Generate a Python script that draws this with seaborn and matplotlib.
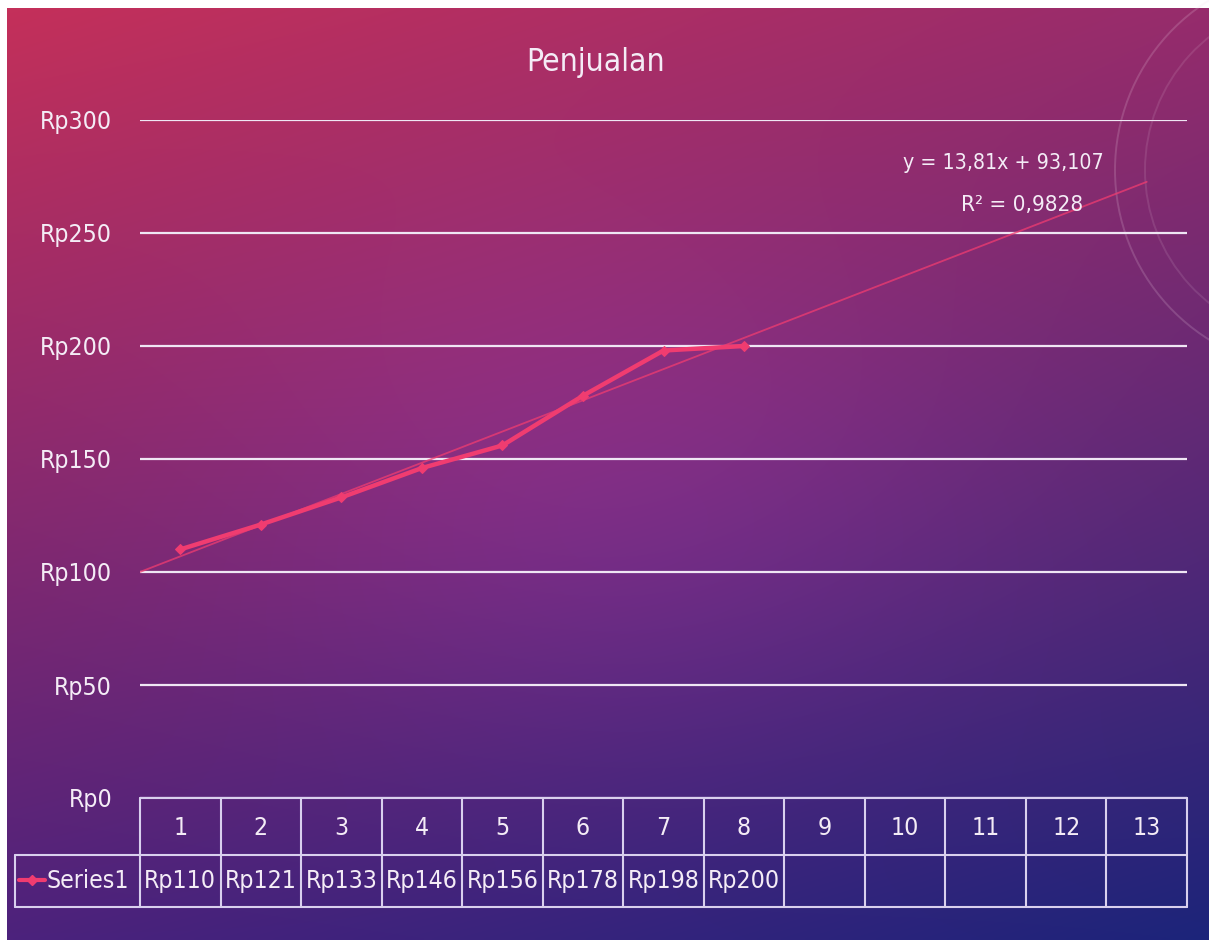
import numpy as np
import pandas as pd
import matplotlib
matplotlib.use("Agg")
import matplotlib.pyplot as plt
import matplotlib.transforms as mtransforms
from matplotlib import font_manager
from matplotlib.lines import Line2D
from matplotlib.patches import Arc
import seaborn as sns

# ---- data -------------------------------------------------------------
title = "Penjualan"
series_name = "Series1"
periods = list(range(1, 14))                      # table columns 1..13
sales_periods = [1, 2, 3, 4, 5, 6, 7, 8]
sales = [110, 121, 133, 146, 156, 178, 198, 200]
y_ticks = [0, 50, 100, 150, 200, 250, 300]
y_tick_labels = [f"Rp{v}" for v in y_ticks]

# ---- style ------------------------------------------------------------
sns.set_style("white")
names = {f.name for f in font_manager.fontManager.ttflist}
condensed = [f for f in font_manager.fontManager.ttflist
             if f.name == "DejaVu Sans" and "ondensed" in f.fname]
if "Liberation Sans Narrow" in names:
    plt.rcParams["font.family"] = ["Liberation Sans Narrow", "DejaVu Sans"]
    SCALE = 1.0
elif condensed:
    plt.rcParams["font.family"] = ["DejaVu Sans"]
    plt.rcParams["font.stretch"] = "condensed"
    SCALE = 0.85
else:
    plt.rcParams["font.family"] = ["Lato", "DejaVu Sans"]
    SCALE = 0.92

W, H = 1209, 940
TXT = "#F4ECF6"
GRID = "#EFE6F4"
TABLE = "#D9D0EE"
PINK = "#F03C70"
FS = 21 * SCALE

fig = plt.figure(figsize=(W / 100, H / 100), dpi=100, facecolor="white")

# ---- gradient backdrop ------------------------------------------------
bg = fig.add_axes([7 / W, 0, 1 - 7 / W, 1 - 8 / H], zorder=-10)
ny, nx = 240, 300
xx, yy = np.meshgrid(np.linspace(0, 1, nx), np.linspace(0, 1, ny))
tl = np.array([196, 48, 90])
tr = np.array([150, 44, 108])
bl = np.array([76, 34, 124])
br = np.array([28, 36, 122])
img = (((1 - xx) * (1 - yy))[..., None] * tl + (xx * (1 - yy))[..., None] * tr
       + ((1 - xx) * yy)[..., None] * bl + (xx * yy)[..., None] * br)
glow = np.exp(-(((xx - 0.5) / 0.35) ** 2 + ((yy - 0.5) / 0.3) ** 2))
img = img + glow[..., None] * np.array([18, 6, 22])
bg.imshow(np.clip(img, 0, 255) / 255, aspect="auto", interpolation="bilinear")
bg.set_axis_off()

# faint decorative arcs, top right
deco = fig.add_axes([0, 0, 1, 1], zorder=-5)
deco.set_xlim(0, W)
deco.set_ylim(H, 0)
deco.set_axis_off()
deco.patch.set_alpha(0)
for r, a in [(200, 0.18), (170, 0.12)]:
    deco.add_patch(Arc((1315, 170), 2 * r, 2 * r, theta1=95, theta2=265,
                       color="#F2D8EA", lw=1.4, alpha=a))

# ---- main chart -------------------------------------------------------
ax = fig.add_axes([140 / W, 1 - 798 / H, 1047 / W, 678 / H])
ax.patch.set_alpha(0)

df = pd.DataFrame({"period": sales_periods, "sales": sales})

# linear trendline from the series
slope, intercept = np.polyfit(df["period"], df["sales"], 1)
pred = slope * df["period"] + intercept
r2 = 1 - ((df["sales"] - pred) ** 2).sum() / ((df["sales"] - df["sales"].mean()) ** 2).sum()
trend = pd.DataFrame({"period": [0.5, 13.0]})
trend["sales"] = slope * trend["period"] + intercept
sns.lineplot(data=trend, x="period", y="sales", ax=ax, color=PINK, lw=1.3,
             alpha=0.75, zorder=3)

sns.lineplot(data=df, x="period", y="sales", ax=ax, color=PINK, lw=3.2,
             marker="D", markersize=5, markeredgecolor=PINK, zorder=4)

ax.set_xlim(0.5, 13.5)
ax.set_ylim(0, 300)
ax.set_yticks(y_ticks)
ax.set_yticklabels(y_tick_labels, fontsize=FS, color=TXT)
ax.set_xticks([])
ax.tick_params(axis="y", length=0, pad=20)
ax.yaxis.grid(True, color=GRID, lw=1.6)
ax.set_axisbelow(True)
for s in ax.spines.values():
    s.set_visible(False)
ax.set_xlabel("")
ax.set_ylabel("")

eq = f"y = {slope:.2f}x + {intercept:.3f}".replace(".", ",")
r2_txt = f"R² = {r2:.4f}".replace(".", ",")
fig.text(1003 / W, 1 - 163 / H, eq, fontsize=18 * SCALE, color=TXT, ha="center", va="center")
fig.text(1022 / W, 1 - 205 / H, r2_txt, fontsize=19 * SCALE, color=TXT, ha="center", va="center")

fig.text(596 / W, 1 - 62 / H, title, fontsize=26.8 * SCALE, color=TXT, ha="center", va="center")

# ---- data table under the axis ---------------------------------------
T = mtransforms.blended_transform_factory(ax.transData, fig.transFigure)
inv = fig.transFigure.inverted()


def fx(v):
    return inv.transform(ax.transData.transform((v, 0)))[0]


y_top, y_mid, y_bot = 1 - 798 / H, 1 - 855 / H, 1 - 907 / H
x_leg = 15 / W
x_first, x_last = fx(0.5), fx(13.5)
lkw = dict(color=TABLE, lw=1.5, transform=fig.transFigure)
fig.add_artist(Line2D([x_first, x_last], [y_top, y_top], **lkw))
fig.add_artist(Line2D([x_leg, x_last], [y_mid, y_mid], **lkw))
fig.add_artist(Line2D([x_leg, x_last], [y_bot, y_bot], **lkw))
fig.add_artist(Line2D([x_leg, x_leg], [y_bot, y_mid], **lkw))
for k in range(len(periods) + 1):
    xv = fx(0.5 + k)
    fig.add_artist(Line2D([xv, xv], [y_bot, y_top], **lkw))

for p in periods:
    fig.text(p, 1 - 828 / H, str(p), transform=T, fontsize=FS, color=TXT,
             ha="center", va="center")
for p, v in zip(sales_periods, sales):
    fig.text(p, 1 - 881 / H, f"Rp{v}", transform=T, fontsize=FS, color=TXT,
             ha="center", va="center")

# legend key in the table
fig.add_artist(Line2D([19 / W, 45 / W], [1 - 880 / H, 1 - 880 / H], color=PINK,
                      lw=3.0, transform=fig.transFigure))
fig.add_artist(Line2D([32 / W], [1 - 880 / H], color=PINK, marker="D", markersize=5,
                      transform=fig.transFigure))
fig.text(46 / W, 1 - 881 / H, series_name, fontsize=FS, color=TXT,
         ha="left", va="center")

fig.savefig("out.png", dpi=100, facecolor=fig.get_facecolor())
